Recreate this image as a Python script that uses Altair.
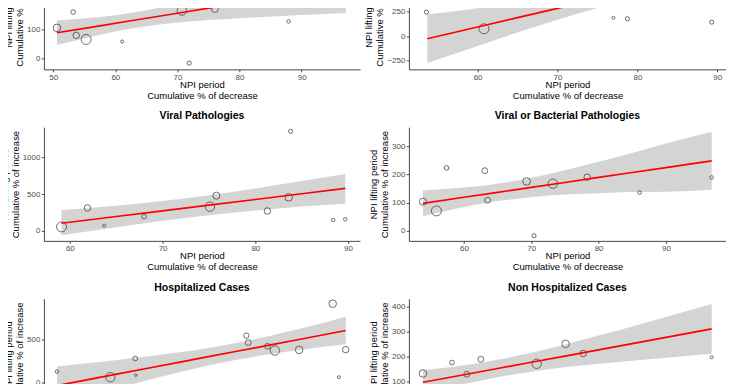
import altair as alt
import pandas as pd

FONT = "Liberation Sans"
BAND = "#D4D4D4"
XTITLE = ["NPI period", "Cumulative % of decrease"]
YT_LOW = ["NPI lifting period", "Cumulative % of increase"]
YT_CAP = ["NPI Lifting period", "Cumulative % of increase"]

# ---- top-left panel (its title lies above the visible crop)
tl_x = [50.6, 53.2, 53.7, 55.3, 61.1, 70.7, 71.9, 72.4, 76.0, 87.9, 97.1]
tl_y = [106, 160, 80, 66, 59, 165, -15, 188, 171, 128, 194]
tl_w = [18.5, 7, 13.5, 32, 3, 28, 5.5, 18.5, 16, 4, 4]
tl_bx = [50.6, 57, 63, 70, 80, 90, 97.1]
tl_fit = [89, 111, 132, 156, 191, 225, 250]
tl_lo = [47, 80, 105, 124, 139, 150, 157]
tl_hi = [131, 142, 159, 188, 243, 300, 343]

# ---- top-right panel
tr_x = [53.6, 60.8, 77.0, 78.75, 86.0, 89.3]
tr_y = [245, 75, 188, 178, 374, 143]
tr_w = [5.5, 32, 3, 5.5, 16, 5.5]
tr_bx = [53.7, 60, 65, 70, 75, 80, 85, 89.3]
tr_fit = [-27, 93, 189, 284, 380, 475, 571, 653]
tr_lo = [-276, -100, 38, 168, 288, 384, 458, 510]
tr_hi = [222, 286, 341, 400, 472, 566, 684, 796]

# ---- Viral Pathologies
ml_x = [59.1, 61.9, 63.7, 68.0, 75.1, 75.8, 81.3, 83.6, 83.8, 88.4, 89.7]
ml_y = [54, 312, 72, 195, 330, 480, 271, 457, 1357, 149, 158]
ml_w = [32, 13.5, 3, 7, 28, 16, 13.5, 18.5, 5.5, 4, 4]
ml_bx = [59.1, 65, 70, 75, 80, 85, 89.7]
ml_fit = [104, 196, 273, 351, 428, 506, 579]
ml_lo = [-60, 48, 138, 214, 277, 331, 370]
ml_hi = [285, 343, 408, 487, 579, 680, 776]

# ---- Viral or Bacterial Pathologies
mr_x = [53.9, 55.9, 57.4, 63.1, 63.5, 69.3, 70.4, 73.2, 78.3, 86.1, 96.8]
mr_y = [103, 70, 223, 213, 108, 175, -18, 167, 190, 135, 189]
mr_w = [16, 32, 7, 11, 11, 18.5, 5.5, 28, 13.5, 4, 4]
mr_bx = [53.9, 60, 65, 70, 75, 80, 85, 90, 96.8]
mr_fit = [97, 118.5, 136, 154, 171, 189, 206.5, 224, 248]
mr_lo = [51, 84, 105, 119, 128, 133, 137, 138, 145]
mr_hi = [143, 153, 167, 188, 215, 245, 276, 310, 351]

# ---- Hospitalized Cases
bl_x = [50.6, 59.2, 63.2, 63.3, 81.1, 81.4, 84.5, 85.7, 89.6, 95.0, 96.0, 97.1]
bl_y = [126, 59, 280, 83, 552, 469, 426, 375, 383, 930, 59, 386]
bl_w = [4, 28, 7, 2, 9, 11, 11, 28, 18.5, 18.5, 3, 13.5]
bl_bx = [50.6, 55, 60, 65, 70, 75, 80, 85, 90, 97.1]
bl_fit = [-40, 22, 92, 162, 232, 302, 372, 442, 512, 612]
bl_lo = [-267, -177, -77, 20, 113, 198, 272, 333, 385, 448]
bl_hi = [187, 221, 261, 304, 351, 406, 472, 551, 639, 776]

# ---- Non Hospitalized Cases
br_x = [53.9, 58.2, 60.4, 62.5, 70.8, 75.1, 77.7, 96.8]
br_y = [133, 177, 130, 190, 172, 252, 213, 198]
br_w = [18.5, 7, 11, 11, 28, 18.5, 13.5, 3]
br_bx = [53.9, 60, 65, 70, 75, 80, 85, 90, 96.8]
br_fit = [98, 128, 153, 178, 203, 228, 253, 278, 312]
br_lo = [50, 90, 118, 140, 158, 172, 184, 196, 212]
br_hi = [146, 166, 188, 216, 249, 285, 322, 360, 412]


def panel(title, ytitle, xs, ys, ws, bx, fit, lo, hi, xdom, ydom, xticks, yticks, width):
    pts = pd.DataFrame({"x": xs, "y": ys, "w": ws})
    band = pd.DataFrame({"x": bx, "fit": fit, "lo": lo, "hi": hi})
    xsc = alt.Scale(domain=xdom, nice=False, zero=False)
    ysc = alt.Scale(domain=ydom, nice=False, zero=False)
    xax = alt.Axis(values=xticks, title=XTITLE, format="d")
    yax = alt.Axis(values=yticks, title=ytitle, format="d")
    area = alt.Chart(band).mark_area(color=BAND, opacity=1, interpolate="monotone", clip=True).encode(
        x=alt.X("x:Q", scale=xsc, axis=xax),
        y=alt.Y("lo:Q", scale=ysc, axis=yax),
        y2="hi:Q",
    )
    dots = alt.Chart(pts).mark_point(shape="circle", filled=False, color="#333333",
                                     strokeWidth=0.7, opacity=1, clip=True).encode(
        x=alt.X("x:Q", scale=xsc, axis=xax),
        y=alt.Y("y:Q", scale=ysc, axis=yax),
        size=alt.Size("w:Q", scale=alt.Scale(domain=[0, 32], range=[0, 100.5]), legend=None),
    )
    line = alt.Chart(band).mark_line(color="#FF0000", strokeWidth=1.7, clip=True).encode(
        x=alt.X("x:Q", scale=xsc, axis=xax),
        y=alt.Y("fit:Q", scale=ysc, axis=yax),
    )
    ch = alt.layer(area, dots, line).properties(width=width, height=114)
    if title:
        ch = ch.properties(title=alt.Title(title, font=FONT, fontSize=10.5, fontWeight="bold",
                                           color="black", anchor="middle", frame="group",
                                           baseline="alphabetic", offset=-2.5))
    return ch


tl = panel(None, YT_LOW, tl_x, tl_y, tl_w, tl_bx, tl_fit, tl_lo, tl_hi,
           [48.5, 99.4], [-36.6, 353.8], [50, 60, 70, 80, 90], [0, 100, 200, 300], 317)
tr = panel(None, YT_LOW, tr_x, tr_y, tr_w, tr_bx, tr_fit, tr_lo, tr_hi,
           [51.4, 91.09], [-340, 823], [60, 70, 80, 90], [-250, 0, 250, 500, 750], 318)
ml = panel("Viral Pathologies", YT_CAP, ml_x, ml_y, ml_w, ml_bx, ml_fit, ml_lo, ml_hi,
           [57.2, 91.29], [-136, 1413], [60, 70, 80, 90], [0, 500, 1000], 317)
mr = panel("Viral or Bacterial Pathologies", YT_LOW, mr_x, mr_y, mr_w, mr_bx, mr_fit, mr_lo, mr_hi,
           [51.81, 98.93], [-36.5, 367.7], [60, 70, 80, 90], [0, 100, 200, 300], 318)
bl = panel("Hospitalized Cases", YT_LOW, bl_x, bl_y, bl_w, bl_bx, bl_fit, bl_lo, bl_hi,
           [48.5, 99.4], [-358, 989], [50, 60, 70, 80, 90], [0, 500], 317)
br = panel("Non Hospitalized Cases", YT_LOW, br_x, br_y, br_w, br_bx, br_fit, br_lo, br_hi,
           [51.81, 98.93], [-23, 433], [60, 70, 80, 90], [0, 100, 200, 300, 400], 318)

chart = alt.concat(tl, tr, ml, mr, bl, br, columns=2,
                   spacing=alt.RowColnumber(row=58, column=49), bounds="flush").properties(
    padding={"left": -9, "top": -53, "right": 0, "bottom": -60}
).configure_view(stroke=None).configure_axis(
    domainColor="#333333", domainWidth=0.9, tickColor="#333333", tickWidth=0.9, tickSize=2.5,
    labelFont=FONT, labelFontSize=8, labelColor="#4D4D4D", labelPadding=1.5,
    titleFont=FONT, titleFontSize=9.5, titleFontWeight="normal", titleColor="black",
    titleLineHeight=11, grid=False,
).configure_axisX(titlePadding=-2).configure_axisY(titlePadding=2)

chart.save("out.html", embed_options={"renderer": "svg", "actions": False})
